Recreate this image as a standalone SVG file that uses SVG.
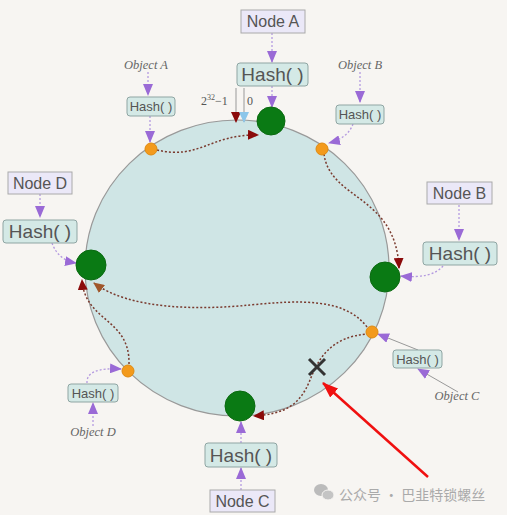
<svg xmlns="http://www.w3.org/2000/svg" width="507" height="515" viewBox="0 0 507 515">
<defs>
<style>
.bg{fill:#f7f5f2}
.ring{fill:#cfe5e5;stroke:#999;stroke-width:1.2}
.node{fill:#ebe8f8;stroke:#aaa;stroke-width:1}
.hash{fill:#d4e9e6;stroke:#8fa5a3;stroke-width:1}
.t{font-family:"Liberation Sans",Arial,sans-serif;fill:#555;text-anchor:middle}
.obj{font-family:"Liberation Serif","Times New Roman",serif;font-style:italic;fill:#666;font-size:12.5px;text-anchor:middle}
.pl{fill:none;stroke:#b49ae0;stroke-width:1.3;stroke-dasharray:2 2}
.gl{fill:none;stroke:#999;stroke-width:1}
.rd{fill:none;stroke:#7a3a2e;stroke-width:1.5;stroke-dasharray:2 2}
.green{fill:#0a7a14;stroke:#0a6a10;stroke-width:1}
.orange{fill:#f39a1c;stroke:#e08a10;stroke-width:1}
</style>
<marker id="mp" markerWidth="12" markerHeight="10" refX="11" refY="5" orient="auto" markerUnits="userSpaceOnUse"><path d="M0,0 L12,5 L0,10 Z" fill="#9a6ad6"/></marker>
<marker id="mr" markerWidth="11" markerHeight="10" refX="10" refY="5" orient="auto" markerUnits="userSpaceOnUse"><path d="M0,0 L11,5 L0,10 Z" fill="#8b0a0a"/></marker>
<marker id="mb" markerWidth="11" markerHeight="10" refX="10" refY="5" orient="auto" markerUnits="userSpaceOnUse"><path d="M0,0 L11,5 L0,10 Z" fill="#8cc6ea"/></marker>
<marker id="mbr" markerWidth="11" markerHeight="10" refX="10" refY="5" orient="auto" markerUnits="userSpaceOnUse"><path d="M0,0 L11,5 L0,10 Z" fill="#a0562a"/></marker>
<marker id="mred" markerWidth="16" markerHeight="12" refX="15" refY="6" orient="auto" markerUnits="userSpaceOnUse"><path d="M0,0 L16,6 L0,12 Z" fill="#f01010"/></marker>
</defs>
<rect class="bg" x="0" y="0" width="507" height="515"/>
<ellipse id="ring" class="ring" cx="237" cy="268" rx="152" ry="148"/>

<g id="connectors">
<line class="pl" x1="272" y1="33" x2="272" y2="62" marker-end="url(#mp)"/>
<line class="pl" x1="272" y1="86" x2="272" y2="107" marker-end="url(#mp)"/>
<line class="pl" x1="148" y1="72" x2="148" y2="95" marker-end="url(#mp)"/>
<line class="pl" x1="150" y1="116" x2="150" y2="142" marker-end="url(#mp)"/>
<line class="pl" x1="360" y1="72" x2="360" y2="102" marker-end="url(#mp)"/>
<path class="pl" d="M353,124 Q348,138 329,143" marker-end="url(#mp)"/>
<line class="pl" x1="40" y1="194" x2="40" y2="217" marker-end="url(#mp)"/>
<path class="pl" d="M52,243 Q58,260 76,263" marker-end="url(#mp)"/>
<line class="pl" x1="459" y1="205" x2="459" y2="240" marker-end="url(#mp)"/>
<path class="pl" d="M443,266 Q432,279 401,276" marker-end="url(#mp)"/>
<line class="gl" x1="418" y1="350" x2="378" y2="334" marker-end="url(#mp)"/>
<line class="gl" x1="458" y1="392" x2="418" y2="369" marker-end="url(#mp)"/>
<line class="pl" x1="93" y1="426" x2="93" y2="403" marker-end="url(#mp)"/>
<path class="pl" d="M87,383 Q86,367 121,369" marker-end="url(#mp)"/>
<line class="pl" x1="241" y1="490" x2="241" y2="468" marker-end="url(#mp)"/>
<line class="pl" x1="241" y1="443" x2="241" y2="422" marker-end="url(#mp)"/>

<line class="gl" x1="236" y1="88" x2="236" y2="122" marker-end="url(#mr)"/>
<line class="gl" x1="244" y1="88" x2="244" y2="122" marker-end="url(#mb)"/>

<path class="rd" d="M157,150 C200,160 210,134 258,135" marker-end="url(#mr)"/>
<path class="rd" d="M324,154 C330,200 396,195 399,268" marker-end="url(#mr)"/>
<path class="rd" d="M367,327 C345,298 300,300 250,305 C200,310 130,310 94,283" marker-end="url(#mbr)"/>
<path class="rd" d="M129,364 C130,318 85,322 82,280" marker-end="url(#mr)"/>
<path class="rd" d="M369,334 C330,336 318,360 310,380 C300,405 285,414 254,416" marker-end="url(#mr)"/>

<line x1="428" y1="477" x2="323" y2="383" stroke="#f01010" stroke-width="2.5" marker-end="url(#mred)"/>
</g>

<g id="node-a">
<rect class="node" x="241" y="10" width="64" height="23"/>
<text class="t" x="273" y="27" font-size="16">Node A</text>
</g>
<g id="hash-a">
<rect class="hash" x="237" y="63" width="71" height="23" rx="3"/>
<text class="t" x="272.5" y="81" font-size="19">Hash( )</text>
</g>
<g id="ring-a"><circle class="green" cx="271" cy="121" r="14"/></g>

<g id="label-zero">
<text x="201" y="105" font-family="Liberation Serif,serif" font-size="12" fill="#555">2<tspan font-size="8" dy="-5">32</tspan><tspan dy="5">−1</tspan></text>
<text x="247" y="105" font-family="Liberation Serif,serif" font-size="12" fill="#555">0</text>
</g>

<g id="object-a">
<text class="obj" x="146" y="69">Object A</text>
<rect class="hash" x="127" y="97" width="48" height="19" rx="3"/>
<text class="t" x="151" y="111" font-size="13">Hash( )</text>
<circle class="orange" cx="151" cy="149" r="6"/>
</g>

<g id="object-b">
<text class="obj" x="360" y="69">Object B</text>
<rect class="hash" x="336" y="105" width="48" height="19" rx="3"/>
<text class="t" x="360" y="119" font-size="13">Hash( )</text>
<circle class="orange" cx="322" cy="149" r="6"/>
</g>

<g id="node-d">
<rect class="node" x="8" y="172" width="64" height="22"/>
<text class="t" x="40" y="189" font-size="16">Node D</text>
<rect class="hash" x="3" y="220" width="74" height="23" rx="3"/>
<text class="t" x="40" y="238" font-size="19">Hash( )</text>
<circle class="green" cx="91" cy="265" r="15"/>
</g>

<g id="node-b">
<rect class="node" x="427" y="182" width="65" height="22"/>
<text class="t" x="459.5" y="199" font-size="16">Node B</text>
<rect class="hash" x="423" y="242" width="74" height="23" rx="3"/>
<text class="t" x="460" y="260" font-size="19">Hash( )</text>
<circle class="green" cx="385" cy="277" r="15"/>
</g>

<g id="object-c">
<circle class="orange" cx="372" cy="332" r="6"/>
<rect class="hash" x="393" y="350" width="49" height="18" rx="3"/>
<text class="t" x="417.5" y="364" font-size="13">Hash( )</text>
<text class="obj" x="457" y="400">Object C</text>
</g>

<g id="object-d">
<circle class="orange" cx="128" cy="371" r="6"/>
<rect class="hash" x="68" y="384" width="50" height="18" rx="3"/>
<text class="t" x="93" y="398" font-size="13">Hash( )</text>
<text class="obj" x="93" y="436">Object D</text>
</g>

<g id="node-c">
<circle class="green" cx="240" cy="406" r="15"/>
<rect class="hash" x="205" y="443" width="72" height="24" rx="3"/>
<text class="t" x="241" y="462" font-size="19">Hash( )</text>
<rect class="node" x="210" y="490" width="65" height="22"/>
<text class="t" x="242.5" y="507" font-size="16">Node C</text>
</g>

<g id="failure-mark">
<line x1="309" y1="359" x2="325" y2="375" stroke="#333" stroke-width="3"/>
<line x1="325" y1="359" x2="309" y2="375" stroke="#333" stroke-width="3"/>
</g>

<g id="watermark">
<ellipse cx="321" cy="490" rx="7" ry="6" fill="#bbb"/>
<ellipse cx="328" cy="495" rx="6" ry="5" fill="#c4c4c4" stroke="#f7f5f2" stroke-width="1"/>
<text x="339" y="500" font-family="'Noto Sans CJK SC',sans-serif" font-size="14" fill="#aaa">公众号 · 巴韭特锁螺丝</text>
</g>
</svg>
